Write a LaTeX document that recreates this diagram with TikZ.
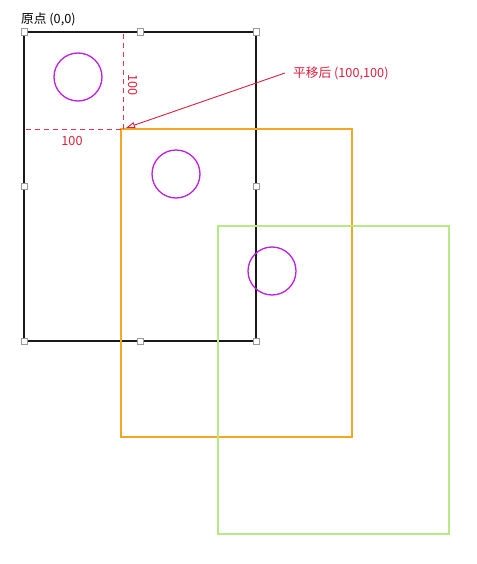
\documentclass[tikz,border=0pt]{standalone}
\usepackage{fontspec}
\setmainfont{Noto Sans CJK SC}
\usetikzlibrary{arrows.meta}
\definecolor{redc}{RGB}{220,30,60}
\definecolor{guidec}{RGB}{230,50,80}
\definecolor{orangec}{RGB}{245,166,35}
\definecolor{greenc}{RGB}{184,233,134}
\definecolor{purplec}{RGB}{190,30,225}
\tikzset{
  frame/.style={line width=1.8pt},
  handle/.style={draw=gray!80, fill=white, line width=0.5pt, minimum size=6.5pt, inner sep=0pt, outer sep=0pt},
  circ/.style={draw=purplec, line width=1.3pt, circle, minimum size=48pt, inner sep=0pt},
  guide/.style={draw=guidec, dash pattern=on 5pt off 4pt, line width=1.2pt},
  lbl/.style={font=\fontsize{12.7pt}{15pt}\selectfont, inner sep=0pt},
}
\begin{document}
\begin{tikzpicture}[x=1pt,y=-1pt]
\useasboundingbox (0,0) rectangle (476,564);
% shapes
\draw[frame, black!90] (24,32) rectangle (256,341);
\draw[frame, orangec] (121,129) rectangle (352,437);
\draw[frame, greenc] (218,226) rectangle (449,534);
% circles
\node[circ] (c1) at (78,77) {};
\node[circ] (c2) at (176,174) {};
\node[circ] (c3) at (272,271) {};
% guides
\coordinate (gtop) at (123.5,34);
\coordinate (gcorner) at (123.5,129.5);
\coordinate (gleft) at (26,129.5);
\draw[guide] (gtop) -- (gcorner);
\draw[guide] (gleft) -- (gcorner);
\node[lbl, text=redc, rotate=-90] (v100) at (133,85) {100};
\node[lbl, text=redc] (h100) at (72,141) {100};
% handles
\foreach \n/\x/\y in {h1/24/32,h2/140/32,h3/256/32,h4/24/186,h5/256/186,h6/24/341,h7/140/341,h8/256/341}
  \node[handle] (\n) at (\x,\y) {};
% labels
\node[lbl, anchor=west, text=black] (origin) at (21,19) {原点 (0,0)};
\node[lbl, anchor=west, text=redc] (moved) at (293,73) {平移后 (100,100)};
\coordinate (tip) at (126,128);
\coordinate (tail) at (285,73);
\draw[redc, line width=0.9pt, -{Triangle[open,length=9pt,width=6pt]}] (tail) -- (tip);
\end{tikzpicture}
\end{document}
